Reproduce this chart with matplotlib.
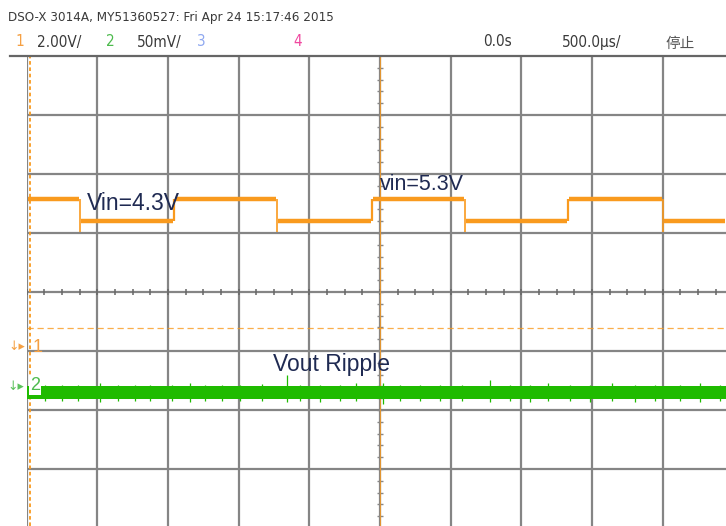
import matplotlib.pyplot as plt
from matplotlib import font_manager
import numpy as np

W, H = 726, 526

# 示波器设置
time_scale_us = 500.0     # us/div
ch1_scale_v = 2.0         # V/div
ch2_scale_mv = 50.0       # mV/div
ch1_offset_div = -0.93    # 通道1 地线位置 (div)
ch2_offset_div = -1.61    # 通道2 地线位置 (div)

# 通道1: 输入电压阶跃 (边沿时刻 us, 电平 V)
ch1_edges_us = [-2120, -1455, -730, -55, 600, 1330, 2000]
ch1_high_v = 5.0
ch1_low_v = 4.25
ch1_undershoot_v = 0.34
trig_level_v = 0.65

# 通道2: 输出纹波 (mV)
ripple_top_mv = 0.5
ripple_bot_mv = -10.5
spike_t_us = [-2369, -2249, -2136, -1980, -1853, -1733, -1627, -1471, -1344, -1238,
              -1117, -990, -835, -658, -566, -424, -283, -170, 21, 141,
              283, 424, 580, 778, 919, 1061, 1188, 1344, 1485, 1641,
              1803, 1945, 2122, 2263, 2404]
spike_top_mv = [2, 1.5, 2, 3, 1.5, 2, 2, 1.5, 3, 2,
                1.5, 2, 2.5, 10, 2, 1.5, 2, 3, 3, 1.5,
                2, 1.5, 2, 6, 1.5, 2, 3, 2, 1.5, 3,
                2, 1.5, 2, 3, 2]
spike_bot_mv = [-12, -11.5, -12, -13, -11.5, -12, -12, -11.5, -13, -12,
                -12, -11.5, -12, -12.5, -11.5, -13, -12, -11.5, -14, -11.5,
                -12, -12, -11.5, -12.5, -12, -13, -11.5, -12, -12.5, -11.5,
                -13, -12, -11.5, -12.5, -12]

header1 = "DSO-X 3014A, MY51360527: Fri Apr 24 15:17:46 2015"

plt.rcParams['font.family'] = ['Liberation Sans', 'Noto Sans CJK SC', 'DejaVu Sans']
cond = [f for f in font_manager.fontManager.ttflist
        if ('Narrow' in f.name or 'ondensed' in f.fname) and 'Bold' not in f.fname
        and 'Oblique' not in f.fname and 'Italic' not in f.fname]
if cond:
    narrow = dict(family=cond[0].name, fontstretch=cond[0].stretch)
else:
    narrow = dict(family='Liberation Sans')

orange = '#f99a1e'
green = '#1fbb00'
gridc = '#858585'
textc = '#1f2a52'

fig = plt.figure(figsize=(W / 100, H / 100), dpi=100)
fig.patch.set_facecolor('white')

# 屏幕区域: 左边 x=26px, 顶 y=56px, 每格 70.7px x 59px
left_px, top_px, cx_px, cy_px = 26.5, 56, 380, 292
dx, dy = 70.7, 59.0
x_right_div = (W - cx_px) / dx
y_bot_div = -(H - cy_px) / dy
ax = fig.add_axes([left_px / W, 0, 1 - left_px / W, (H - top_px) / H])
xlim = (-5 * time_scale_us, x_right_div * time_scale_us)
ylim_div = (y_bot_div, 4.0)
ax.set_xlim(*xlim)
ax.set_ylim(*ylim_div)
ax.axis('off')

ax1 = ax.twinx()
ax1.set_ylim((ylim_div[0] - ch1_offset_div) * ch1_scale_v, (ylim_div[1] - ch1_offset_div) * ch1_scale_v)
ax1.axis('off')
ax2 = ax.twinx()
ax2.set_ylim((ylim_div[0] - ch2_offset_div) * ch2_scale_mv, (ylim_div[1] - ch2_offset_div) * ch2_scale_mv)
ax2.axis('off')

# 网格
for k in range(-5, 6):
    ax.axvline(k * time_scale_us, color=gridc, lw=1.6, zorder=1)
for j in range(-3, 4):
    ax.axhline(j, color=gridc, lw=1.6, zorder=1)
# 中心刻度
xt = np.arange(-5 * time_scale_us, xlim[1], time_scale_us / 4)
ax.plot(xt, np.zeros_like(xt), ls='none', marker='|', ms=4.5, mew=1.1, color='#666666', zorder=2)
yt = np.arange(-3.8, 4.0, 0.2)
ax.plot(np.zeros_like(yt), yt, ls='none', marker='_', ms=4, mew=1.0, color='#888888', zorder=2)

# 左边缘 橙色虚线, 触发线
ax.axvline(-5 * time_scale_us + 25, color=orange, lw=1.3, ls=(0, (2, 1.5)), zorder=3)
ax.axvline(0, color=orange, lw=0.8, alpha=0.8, zorder=3)
ax1.axhline(trig_level_v, color=orange, lw=0.9, ls=(0, (5, 3)), alpha=0.8, zorder=3)

# 通道1 波形
bounds = [xlim[0]] + ch1_edges_us + [xlim[1]]
level = ch1_high_v
for i in range(len(bounds) - 1):
    ax1.hlines(level, bounds[i] + 8, bounds[i + 1] - 8, color=orange, lw=3.2, zorder=4)
    if i < len(ch1_edges_us):
        t = ch1_edges_us[i]
        if level == ch1_high_v:
            ax1.vlines(t, ch1_low_v - ch1_undershoot_v, ch1_high_v, color=orange, lw=1.2, zorder=4)
            level = ch1_low_v
        else:
            ax1.vlines(t, ch1_low_v, ch1_high_v, color=orange, lw=1.6, zorder=4)
            level = ch1_high_v

# 通道2 纹波
ax2.fill_between(list(xlim), ripple_bot_mv, ripple_top_mv, color=green, lw=0, zorder=4)
ax2.vlines(spike_t_us, spike_bot_mv, spike_top_mv, color=green, lw=0.9, zorder=4)

# 顶部分隔线
fig.add_artist(plt.Line2D([10 / W, 1], [1 - top_px / H] * 2, color='#666666', lw=1.6))

renderer = fig.canvas.get_renderer()


def ftext(x, y, s, width=None, **kw):
    t = fig.text(x / W, 1 - y / H, s, **kw)
    if width is not None:
        w = t.get_window_extent(renderer).width
        t.set_fontsize(t.get_fontsize() * width / w)
    return t


gray = '#3a3a3a'
ftext(8, 17, header1, width=325, fontsize=11, color=gray, va='center', **narrow)
fs = 11
ftext(15, 42, "1", fontsize=fs, color='#f5a043', va='center', **narrow)
ftext(37, 42, "2.00V/", fontsize=fs, color=gray, va='center', **narrow)
ftext(106, 42, "2", fontsize=fs, color='#4dbb4d', va='center', **narrow)
ftext(137, 42, "50mV/", fontsize=fs, color=gray, va='center', **narrow)
ftext(197, 42, "3", fontsize=fs, color='#8fa8f0', va='center', **narrow)
ftext(293, 42, "4", fontsize=fs, color='#f0479f', va='center', **narrow)
ftext(483, 42, "0.0s", fontsize=fs, color=gray, va='center', **narrow)
ftext(562, 42, "500.0µs/", fontsize=fs, color=gray, va='center', **narrow)
ftext(665, 44, "停止", fontsize=10.5, family=['Noto Sans CJK SC', 'DejaVu Sans'], color='#555555', va='center')

# 通道标记
ftext(33, 347, "1", fontsize=13, color='#f5a043', va='center')
ftext(8, 347, "↓▸", fontsize=9, color='#f5a043', va='center', family='DejaVu Sans')
ftext(30, 386, "2", fontsize=13, color='#4dbb4d', va='center',
      bbox=dict(facecolor='white', edgecolor='none', pad=0.5))
ftext(7, 386, "↓▸", fontsize=9, color='#5cc25c', va='center', family='DejaVu Sans')

# 标注
ftext(87, 204, "Vin=4.3V", fontsize=16.5, color=textc, va='center')
ftext(380, 185, "vin=5.3V", fontsize=15.5, color=textc, va='center')
ftext(273, 365, "Vout Ripple", fontsize=16.5, color=textc, va='center')

plt.savefig("out.png", dpi=100)
